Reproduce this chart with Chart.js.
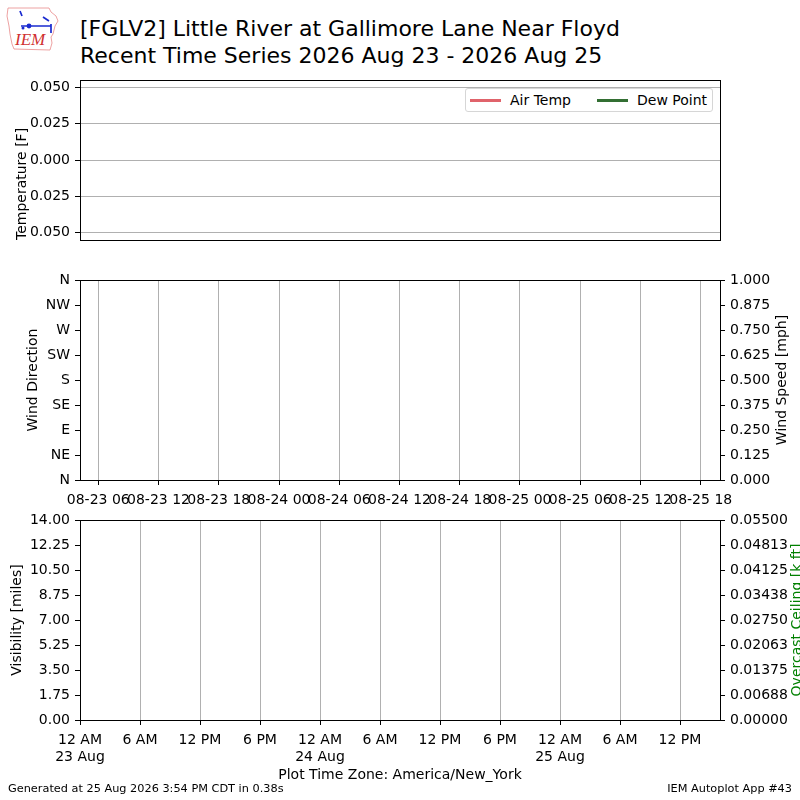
<!DOCTYPE html>
<html>
<head>
<meta charset="utf-8">
<title>FGLV2 Recent Time Series</title>
<script src="https://cdn.jsdelivr.net/npm/chart.js@4.4.1/dist/chart.umd.min.js"></script>
<style>
  html, body { margin: 0; padding: 0; background: #fff; }
  body { width: 800px; height: 800px; position: relative; overflow: hidden; font-family: 'DejaVu Sans', sans-serif; color: #000; }
  canvas { position: absolute; left: 0; }
  #logo { position: absolute; left: 5px; top: 5px; }
  #title { position: absolute; left: 80px; top: 15px; font-size: 22px; line-height: 27px; white-space: nowrap; }
  #legend { position: absolute; left: 465px; top: 88px; width: 246px; height: 22px; border: 1px solid #d6d6d6; border-radius: 3px; background: #fff; display: flex; align-items: center; font-size: 14px; white-space: nowrap; }
  #legend .item { display: flex; align-items: center; margin-left: 4px; margin-right: 22px; white-space: nowrap; flex: none; }
  #legend .swatch { width: 31px; height: 3px; margin-right: 9px; flex: none; }
  .foot { position: absolute; top: 782px; font-size: 11.3px; white-space: nowrap; }
</style>
</head>
<body>

<svg id="logo" width="56" height="48" viewBox="0 0 56 48">
  <path d="M3 3 L44 3 L46 7 L51 11 L53 16 L50 21 L48 29 L46 32 L47 38 L45 45 L9 44 L7 39 L5 29 L4 21 L2 11 Z" fill="none" stroke="#e88a8a" stroke-width="0.8"/>
  <path d="M15 6 L17 11 M16 21 L46 21 M38 12 L44 16 M46 19 L46 28" stroke="#1a2bd0" stroke-width="1.7" fill="none"/>
  <circle cx="24" cy="21" r="2.4" fill="#1a2bd0"/>
  <circle cx="18" cy="23" r="1.5" fill="#1a2bd0"/>
  <text x="10" y="40" font-family="Liberation Serif, serif" font-style="italic" font-size="17" fill="#d03030">IEM</text>
</svg>

<div id="title">[FGLV2] Little River at Gallimore Lane Near Floyd<br>Recent Time Series 2026 Aug 23 - 2026 Aug 25</div>

<canvas id="tempChart" width="800" height="200" style="top:60px"></canvas>
<canvas id="windChart" width="800" height="270" style="top:250px"></canvas>
<canvas id="visChart" width="800" height="300" style="top:500px"></canvas>

<div id="legend"></div>

<div class="foot" style="left:8px">Generated at 25 Aug 2026 3:54 PM CDT in 0.38s</div>
<div class="foot" style="right:8px">IEM Autoplot App #43</div>

<script>
// ---- data (no observations in this period) ----
const airTemp = [];
const dewPoint = [];
const windDirection = [];
const windSpeed = [];
const visibility = [];
const ceiling = [];

// ---- tick values / labels ----
const tempTicks = [-0.05, -0.025, 0, 0.025, 0.05];
const tempLabels = ['0.050', '0.025', '0.000', '0.025', '0.050'];
const dirTicks = [0, 45, 90, 135, 180, 225, 270, 315, 360];
const dirLabels = ['N', 'NE', 'E', 'SE', 'S', 'SW', 'W', 'NW', 'N'];
const speedTicks = [0, 0.125, 0.25, 0.375, 0.5, 0.625, 0.75, 0.875, 1];
const speedLabels = ['0.000', '0.125', '0.250', '0.375', '0.500', '0.625', '0.750', '0.875', '1.000'];
// hours after 2026-08-23 00:00
const windHours = [6, 12, 18, 24, 30, 36, 42, 48, 54, 60, 66];
const windHourLabels = ['08-23 06', '08-23 12', '08-23 18', '08-24 00', '08-24 06', '08-24 12',
  '08-24 18', '08-25 00', '08-25 06', '08-25 12', '08-25 18'];
const visTicks = [0, 1.75, 3.5, 5.25, 7, 8.75, 10.5, 12.25, 14];
const visLabels = ['0.00', '1.75', '3.50', '5.25', '7.00', '8.75', '10.50', '12.25', '14.00'];
const ceilTicks = [0, 0.006875, 0.01375, 0.020625, 0.0275, 0.034375, 0.04125, 0.048125, 0.055];
const ceilLabels = ['0.00000', '0.00688', '0.01375', '0.02063', '0.02750', '0.03438', '0.04125', '0.04813', '0.05500'];
const timeHours = [0, 6, 12, 18, 24, 30, 36, 42, 48, 54, 60];
const timeLabels = [['12 AM', '23 Aug'], '6 AM', '12 PM', '6 PM', ['12 AM', '24 Aug'], '6 AM',
  '12 PM', '6 PM', ['12 AM', '25 Aug'], '6 AM', '12 PM'];

Chart.defaults.font.family = "'DejaVu Sans', sans-serif";
Chart.defaults.font.size = 14;
Chart.defaults.color = '#000';

// black box round the plot area, like matplotlib spines
const framePlugin = {
  id: 'frame',
  afterDraw(chart) {
    const { ctx, chartArea: a } = chart;
    const l = Math.round(a.left - 0.5) + 0.5;
    const t = Math.round(a.top - 0.5) + 0.5;
    const r = Math.round(a.right - 0.5) + 0.5;
    const b = Math.round(a.bottom - 0.5) + 0.5;
    ctx.save();
    ctx.strokeStyle = '#000';
    ctx.lineWidth = 1;
    ctx.strokeRect(l, t, r - l, b - t);
    ctx.restore();
  }
};

// right hand axis title, reading bottom to top
const sideTitlePlugin = {
  id: 'sideTitle',
  afterDraw(chart, args, opts) {
    if (!opts || !opts.text) return;
    const { ctx, chartArea: a } = chart;
    ctx.save();
    ctx.translate(a.right + opts.offset, (a.top + a.bottom) / 2);
    ctx.rotate(-Math.PI / 2);
    ctx.font = "14px 'DejaVu Sans', sans-serif";
    ctx.fillStyle = opts.color || '#000';
    ctx.textAlign = 'center';
    ctx.textBaseline = 'middle';
    ctx.fillText(opts.text, 0, 0);
    ctx.restore();
  }
};

Chart.register(framePlugin, sideTitlePlugin);

function fixedTicks(values) {
  return scale => { scale.ticks = values.map(v => ({ value: v })); };
}

function axis(values, labels, extra) {
  return Object.assign({
    type: 'linear',
    afterBuildTicks: fixedTicks(values),
    border: { display: false },
    grid: { color: '#b0b0b0', tickColor: '#000', tickLength: 5, drawOnChartArea: false },
    ticks: { autoSkip: false, maxRotation: 0, minRotation: 0, padding: 5, callback: (v, i) => labels[i] }
  }, extra);
}

function xTicks(labels) {
  return { autoSkip: false, maxRotation: 0, minRotation: 0, padding: 7, callback: (v, i) => labels[i] };
}

const baseOptions = {
  responsive: false,
  animation: false,
  events: [],
  elements: { point: { radius: 0 }, line: { borderWidth: 2 } }
};

// ---- temperature panel ----
const tempChart = new Chart(document.getElementById('tempChart'), {
  type: 'line',
  data: {
    datasets: [
      { label: 'Air Temp', data: airTemp, borderColor: '#e0636b', backgroundColor: '#e0636b' },
      { label: 'Dew Point', data: dewPoint, borderColor: '#336f33', backgroundColor: '#336f33' }
    ]
  },
  options: Object.assign({}, baseOptions, {
    layout: { padding: { top: 20, bottom: 20, left: 10, right: 80 } },
    plugins: { legend: { display: false }, tooltip: { enabled: false } },
    scales: {
      x: { type: 'linear', display: false, min: 0, max: 64 },
      y: axis(tempTicks, tempLabels, {
        min: -0.055, max: 0.055,
        afterFit: s => { s.width = 70; },
        grid: { color: '#b0b0b0', tickColor: '#000', tickLength: 5, drawOnChartArea: true },
        title: { display: true, text: 'Temperature [F]', align: 'start', padding: { top: 4, bottom: 0 } }
      })
    }
  })
});

// legend inside the temperature panel
document.getElementById('legend').innerHTML = tempChart.data.datasets.map(ds =>
  `<div class="item"><span class="swatch" style="background:${ds.borderColor}"></span>${ds.label}</div>`
).join('');

// ---- wind panel ----
new Chart(document.getElementById('windChart'), {
  type: 'line',
  data: {
    datasets: [
      { label: 'Wind Direction', data: windDirection, yAxisID: 'y', borderColor: '#000', showLine: false },
      { label: 'Wind Speed', data: windSpeed, yAxisID: 'y2', borderColor: '#1f77b4' }
    ]
  },
  options: Object.assign({}, baseOptions, {
    layout: { padding: { top: 30, bottom: 10, left: 21, right: 6 } },
    plugins: {
      legend: { display: false }, tooltip: { enabled: false },
      sideTitle: { text: 'Wind Speed [mph]', offset: 62, color: '#000' }
    },
    scales: {
      x: axis(windHours, windHourLabels, {
        min: 4.18, max: 67.92,
        afterFit: s => { s.height = 30; },
        grid: { color: '#b0b0b0', tickColor: '#000', tickLength: 5, drawOnChartArea: true },
        ticks: xTicks(windHourLabels)
      }),
      y: axis(dirTicks, dirLabels, {
        min: 0, max: 360,
        afterFit: s => { s.width = 59; },
        title: { display: true, text: 'Wind Direction', padding: { top: 4, bottom: 0 } }
      }),
      y2: axis(speedTicks, speedLabels, {
        position: 'right', min: 0, max: 1,
        afterFit: s => { s.width = 74; }
      })
    }
  })
});

// ---- visibility / ceiling panel ----
new Chart(document.getElementById('visChart'), {
  type: 'line',
  data: {
    datasets: [
      { label: 'Visibility', data: visibility, yAxisID: 'y', borderColor: '#000' },
      { label: 'Overcast Ceiling', data: ceiling, yAxisID: 'y2', borderColor: '#008000' }
    ]
  },
  options: Object.assign({}, baseOptions, {
    layout: { padding: { top: 20, bottom: 12, left: 5, right: 6 } },
    plugins: {
      legend: { display: false }, tooltip: { enabled: false },
      sideTitle: { text: 'Overcast Ceiling [k ft]', offset: 77, color: '#008000' }
    },
    scales: {
      x: axis(timeHours, timeLabels, {
        min: 0, max: 64,
        afterFit: s => { s.height = 68; },
        grid: { color: '#b0b0b0', tickColor: '#000', tickLength: 5, drawOnChartArea: true },
        ticks: xTicks(timeLabels),
        title: { display: true, text: 'Plot Time Zone: America/New_York', padding: { top: 4, bottom: 4 } }
      }),
      y: axis(visTicks, visLabels, {
        min: 0, max: 14,
        afterFit: s => { s.width = 75; },
        title: { display: true, text: 'Visibility [miles]', padding: { top: 4, bottom: 0 } }
      }),
      y2: axis(ceilTicks, ceilLabels, {
        position: 'right', min: 0, max: 0.055,
        afterFit: s => { s.width = 74; }
      })
    }
  })
});
</script>
</body>
</html>
